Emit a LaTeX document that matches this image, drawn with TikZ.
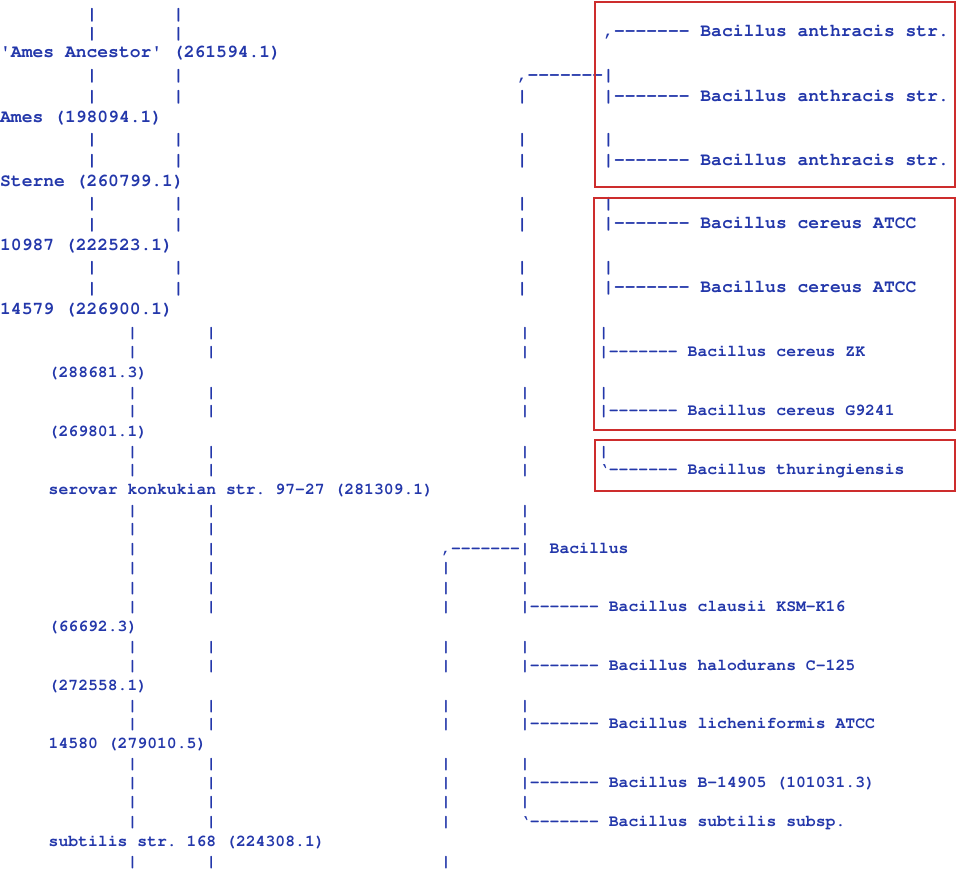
\documentclass[tikz,border=0pt]{standalone}
\usepackage[T1]{fontenc}
\usepackage{textcomp}
\renewcommand{\ttdefault}{pcr}
\frenchspacing
\definecolor{treeblue}{RGB}{35,55,170}
\definecolor{boxred}{RGB}{205,45,45}
\newcommand{\dashes}{-{}-{}-{}-{}-{}-{}-}
\tikzset{
	bigtxt/.style={font=\ttfamily\bfseries\fontsize{18}{18}\selectfont, text=treeblue, inner sep=0pt, anchor=base west},
	smalltxt/.style={font=\ttfamily\bfseries\fontsize{16.43}{16.43}\selectfont, text=treeblue, inner sep=0pt, anchor=base west},
	redbox/.style={draw=boxred, line width=1.3pt}
}
\begin{document}
\begin{tikzpicture}[x=1pt, y=-1pt]
			\def \wa{10.8}
			\def \wb{9.86}
			\def \xa{0}
			\def \xr{516.6}
			\def \xl{48.5}
			\def \xm{441}
			\useasboundingbox (0,0) rectangle (960,875);
			% upper part
			\foreach \y in {14,33,75,96,139,160,203,224,267,288}{
				\node[bigtxt] (ua\y) at (\xa+8*\wa,\y+5.5) {|};
				\node[bigtxt] (ub\y) at (\xa+16*\wa,\y+5.5) {|};
			}
			\node[bigtxt] (ancestor) at (\xa,52+5.5) {\textquotesingle Ames Ancestor\textquotesingle{} (261594.1)};
			\node[bigtxt] (ames) at (\xa,117+5.5) {Ames (198094.1)};
			\node[bigtxt] (sterne) at (\xa,181+5.5) {Sterne (260799.1)};
			\node[bigtxt] (s10987) at (\xa,245+5.5) {10987 (222523.1)};
			\node[bigtxt] (s14579) at (\xa,309+5.5) {14579 (226900.1)};
			\foreach \y in {96,139,160,203,224,267,288}
				\node[bigtxt] (um\y) at (\xr,\y+5.5) {|};
			\node[bigtxt] (anthjoin) at (\xr,75+5.5) {,\dashes|};
			\foreach \y in {139,203,267}
				\node[bigtxt] (ur\y) at (\xr+8*\wa,\y+5.5) {|};
			\node[bigtxt] (anth1) at (\xr+8*\wa,31+5.5) {,\dashes{} Bacillus anthracis str.};
			\node[bigtxt] (anth2) at (\xr+8*\wa,96+5.5) {|\dashes{} Bacillus anthracis str.};
			\node[bigtxt] (anth3) at (\xr+8*\wa,160+5.5) {|\dashes{} Bacillus anthracis str.};
			\node[bigtxt] (atcc1) at (\xr+8*\wa,223+5.5) {|\dashes{} Bacillus cereus ATCC};
			\node[bigtxt] (atcc2) at (\xr+8*\wa,287+5.5) {|\dashes{} Bacillus cereus ATCC};
			% lower part
			\foreach \y in {332,351,392,410,451,469,510,528,548,567,587,606,646,665,705,723,763,782,801,821,861}{
				\node[smalltxt] (la\y) at (\xl+8*\wb,\y+5) {|};
				\node[smalltxt] (lb\y) at (\xl+16*\wb,\y+5) {|};
			}
			\node[smalltxt] (p288681) at (\xl,372+5) {(288681.3)};
			\node[smalltxt] (p269801) at (\xl,431+5) {(269801.1)};
			\node[smalltxt] (konkukian) at (\xl,489+5) {serovar konkukian str. 97-27 (281309.1)};
			\node[smalltxt] (p66692) at (\xl,626+5) {(66692.3)};
			\node[smalltxt] (p272558) at (\xl,685+5) {(272558.1)};
			\node[smalltxt] (s14580) at (\xl,743+5) {14580 (279010.5)};
			\node[smalltxt] (subtilis168) at (\xl,841+5) {subtilis str. 168 (224308.1)};
			\foreach \y in {567,587,606,646,665,705,723,763,782,801,821,861}
				\node[smalltxt] (lc\y) at (\xm,\y+5) {|};
			\foreach \y in {332,351,392,410,451,469,510,528,567,587,646,705,763,801}
				\node[smalltxt] (lm\y) at (\xm+8*\wb,\y+5) {|};
			\node[smalltxt] (genus) at (\xm,548+5) {,\dashes|\ \ Bacillus};
			\foreach \y in {332,392,451}
				\node[smalltxt] (lr\y) at (\xm+16*\wb,\y+5) {|};
			\node[smalltxt] (zk) at (\xm+16*\wb,351+5) {|\dashes{} Bacillus cereus ZK};
			\node[smalltxt] (g9241) at (\xm+16*\wb,410+5) {|\dashes{} Bacillus cereus G9241};
			\node[smalltxt] (thur) at (\xm+16*\wb,469+5) {`\dashes{} Bacillus thuringiensis};
			\node[smalltxt] (clausii) at (\xm+8*\wb,606+5) {|\dashes{} Bacillus clausii KSM-K16};
			\node[smalltxt] (halo) at (\xm+8*\wb,665+5) {|\dashes{} Bacillus halodurans C-125};
			\node[smalltxt] (lich) at (\xm+8*\wb,723+5) {|\dashes{} Bacillus licheniformis ATCC};
			\node[smalltxt] (b14905) at (\xm+8*\wb,782+5) {|\dashes{} Bacillus B-14905 (101031.3)};
			\node[smalltxt] (subsp) at (\xm+8*\wb,821+5) {`\dashes{} Bacillus subtilis subsp.};
			% boxes
			\draw[redbox] (595,2) rectangle (955,187);
			\draw[redbox] (594,198) rectangle (955,430);
			\draw[redbox] (595,440) rectangle (955,491);
\end{tikzpicture}
\end{document}
